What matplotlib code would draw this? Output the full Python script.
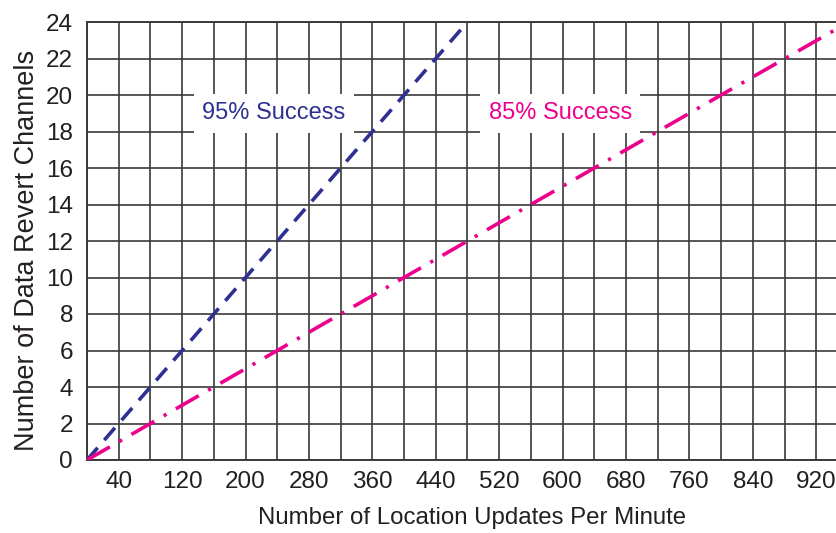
import matplotlib
matplotlib.use("Agg")
import matplotlib.pyplot as plt
import numpy as np

plt.rcParams['font.family'] = ['Liberation Sans', 'DejaVu Sans']

# Data
x95 = [0, 80, 160, 240, 320, 400, 480]
y95 = [0, 4, 8, 12, 16, 20, 24]
x85 = [0, 160, 320, 480, 640, 800, 945]
y85 = [0, 4, 8, 12, 16, 20, 23.6]
xtick_labels = [40, 120, 200, 280, 360, 440, 520, 600, 680, 760, 840, 920]
ytick_labels = list(range(0, 25, 2))

blue = '#2e3192'
pink = '#ec008c'
dark = '#231f20'

fig = plt.figure(figsize=(8.36, 5.33), dpi=100)
ax = fig.add_axes([87/836, 73/533, 1 - 87/836 + 0.002, (460-22)/533])

ax.set_xlim(0, 947)
ax.set_ylim(0, 24)
ax.set_xticks(xtick_labels)
ax.set_xticks(np.arange(0, 947, 40), minor=True)
ax.set_yticks(ytick_labels)
ax.grid(True, which='both', color='#3a3a3a', linewidth=1.2)
ax.set_axisbelow(True)
ax.tick_params(which='both', length=0, labelsize=17.5, colors=dark)
ax.tick_params(axis='x', pad=8)
ax.tick_params(axis='y', pad=10)
for s in ['left', 'bottom', 'top']:
    ax.spines[s].set_color('#3a3a3a')
    ax.spines[s].set_linewidth(1.4)
ax.spines['right'].set_visible(False)

ax.plot(x95, y95, color=blue, linewidth=2.6, linestyle=(0, (4.5, 2.8)), zorder=3)
ax.plot(x85, y85, color=pink, linewidth=2.6, linestyle=(0, (7.3, 3.0, 0.9, 3.0)), zorder=3)

ax.text(236, 19, '95% Success', color=blue, fontsize=17, ha='center', va='center',
        bbox=dict(facecolor='white', edgecolor='none', pad=6), zorder=4)
ax.text(597, 19, '85% Success', color=pink, fontsize=17, ha='center', va='center',
        bbox=dict(facecolor='white', edgecolor='none', pad=6), zorder=4)

ax.set_xlabel('Number of Location Updates Per Minute', fontsize=17.3, color=dark,
              labelpad=10, x=0.513)
ax.set_ylabel('Number of Data Revert Channels', fontsize=19.5, color=dark,
              labelpad=4, y=0.479)

fig.savefig('out.png', dpi=100)
